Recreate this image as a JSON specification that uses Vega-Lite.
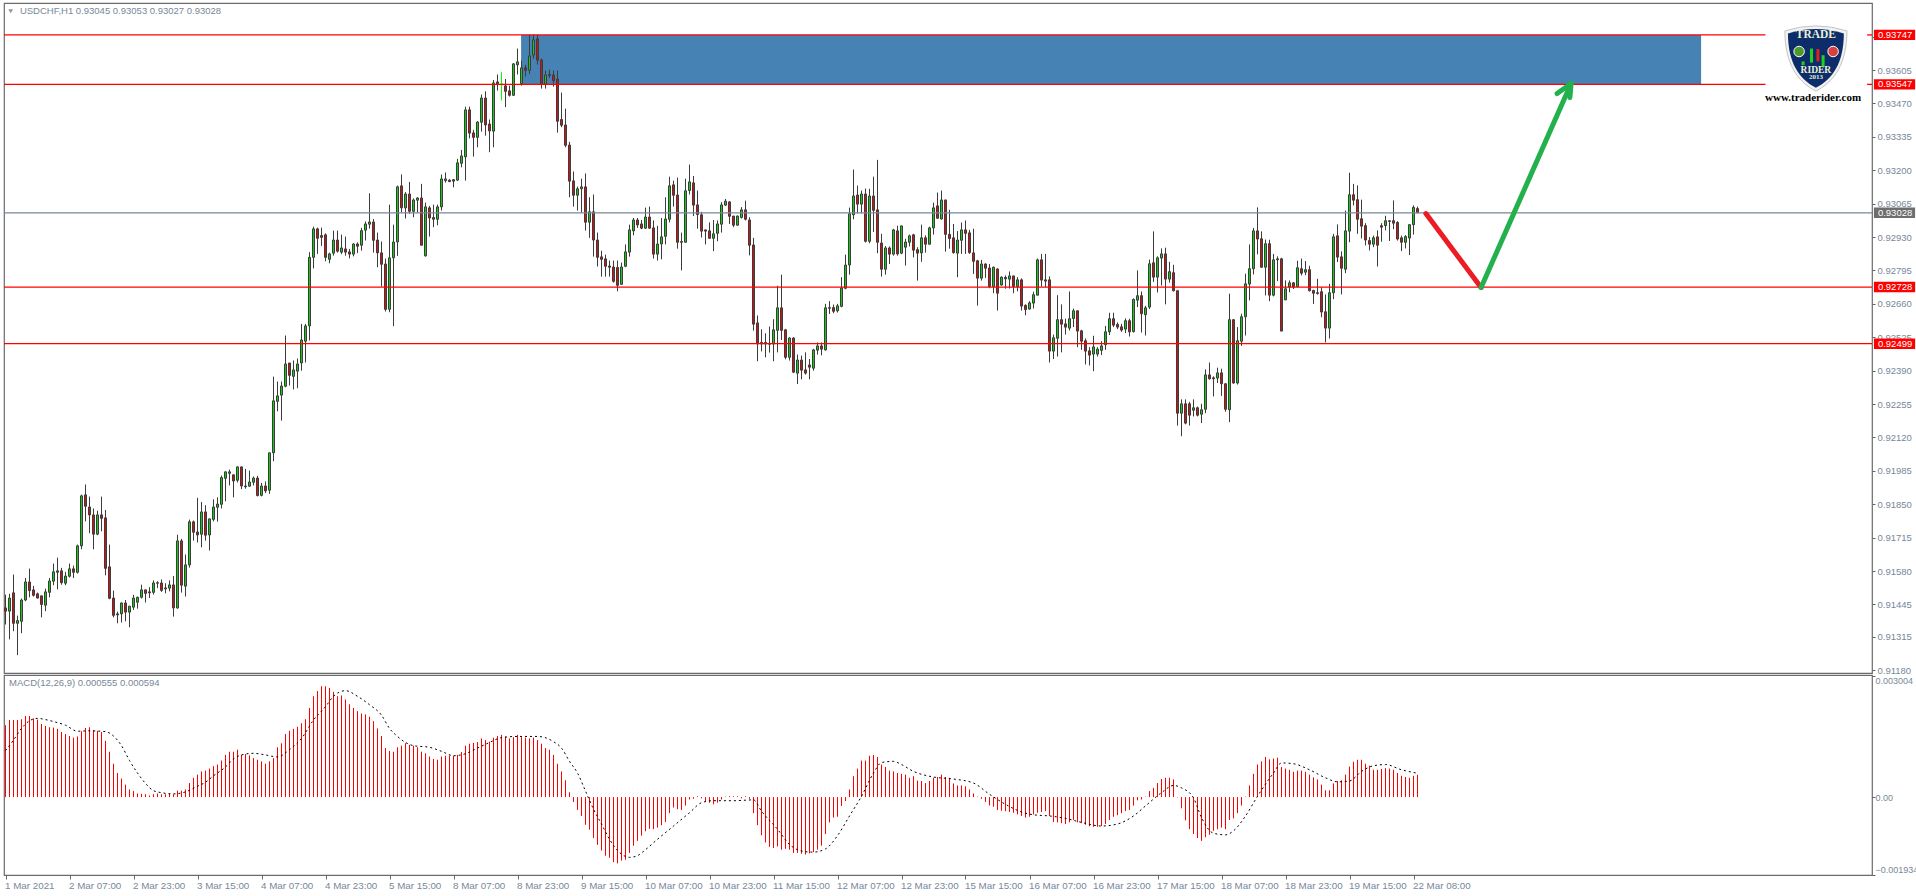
{"$schema":"https://vega.github.io/schema/vega-lite/v6.json","background":"white","padding":{"left":2,"top":2,"right":0,"bottom":0},"spacing":2,"bounds":"flush",
"datasets":{"candles":[
{"i":0,"o":0.91431,"h":0.91485,"l":0.91364,"c":0.91418,"m":0.00179},{"i":1,"o":0.91418,"h":0.91488,"l":0.91304,"c":0.91471,"m":0.00192},{"i":2,"o":0.91492,"h":0.91566,"l":0.91337,"c":0.91369,"m":0.00192},{"i":3,"o":0.91369,"h":0.91400,"l":0.91240,"c":0.91380,"m":0.00192},{"i":4,"o":0.91377,"h":0.91469,"l":0.91329,"c":0.91463,"m":0.00194},{"i":5,"o":0.91463,"h":0.91552,"l":0.91458,"c":0.91536,"m":0.00202},{"i":6,"o":0.91536,"h":0.91590,"l":0.91474,"c":0.91501,"m":0.00202},{"i":7,"o":0.91504,"h":0.91520,"l":0.91477,"c":0.91482,"m":0.00196},{"i":8,"o":0.91488,"h":0.91493,"l":0.91469,"c":0.91471,"m":0.00193},{"i":9,"o":0.91480,"h":0.91480,"l":0.91393,"c":0.91445,"m":0.00182},
{"i":10,"o":0.91442,"h":0.91509,"l":0.91418,"c":0.91496,"m":0.00177},{"i":11,"o":0.91494,"h":0.91552,"l":0.91474,"c":0.91540,"m":0.00174},{"i":12,"o":0.91539,"h":0.91610,"l":0.91523,"c":0.91577,"m":0.00173},{"i":13,"o":0.91575,"h":0.91634,"l":0.91506,"c":0.91581,"m":0.00170},{"i":14,"o":0.91581,"h":0.91593,"l":0.91525,"c":0.91533,"m":0.00162},{"i":15,"o":0.91531,"h":0.91577,"l":0.91523,"c":0.91560,"m":0.00157},{"i":16,"o":0.91559,"h":0.91610,"l":0.91554,"c":0.91589,"m":0.00152},{"i":17,"o":0.91589,"h":0.91602,"l":0.91552,"c":0.91575,"m":0.00148},{"i":18,"o":0.91575,"h":0.91687,"l":0.91570,"c":0.91682,"m":0.00151},{"i":19,"o":0.91682,"h":0.91889,"l":0.91668,"c":0.91884,"m":0.00164},
{"i":20,"o":0.91888,"h":0.91930,"l":0.91781,"c":0.91842,"m":0.00172},{"i":21,"o":0.91839,"h":0.91881,"l":0.91733,"c":0.91807,"m":0.00174},{"i":22,"o":0.91807,"h":0.91833,"l":0.91668,"c":0.91729,"m":0.00167},{"i":23,"o":0.91729,"h":0.91824,"l":0.91725,"c":0.91807,"m":0.00165},{"i":24,"o":0.91807,"h":0.91881,"l":0.91741,"c":0.91793,"m":0.00162},{"i":25,"o":0.91795,"h":0.91827,"l":0.91563,"c":0.91591,"m":0.00140},{"i":26,"o":0.91597,"h":0.91687,"l":0.91466,"c":0.91470,"m":0.00113},{"i":27,"o":0.91471,"h":0.91501,"l":0.91393,"c":0.91401,"m":0.00083},{"i":28,"o":0.91407,"h":0.91416,"l":0.91369,"c":0.91403,"m":0.00060},{"i":29,"o":0.91407,"h":0.91453,"l":0.91372,"c":0.91451,"m":0.00046},
{"i":30,"o":0.91451,"h":0.91463,"l":0.91377,"c":0.91414,"m":0.00031},{"i":31,"o":0.91414,"h":0.91439,"l":0.91353,"c":0.91438,"m":0.00019},{"i":32,"o":0.91434,"h":0.91484,"l":0.91423,"c":0.91471,"m":0.00015},{"i":33,"o":0.91454,"h":0.91477,"l":0.91428,"c":0.91474,"m":0.00009},{"i":34,"o":0.91474,"h":0.91525,"l":0.91469,"c":0.91504,"m":0.00008},{"i":35,"o":0.91504,"h":0.91505,"l":0.91453,"c":0.91490,"m":0.00007},{"i":36,"o":0.91496,"h":0.91515,"l":0.91471,"c":0.91492,"m":0.00004},{"i":37,"o":0.91494,"h":0.91542,"l":0.91485,"c":0.91532,"m":0.00007},{"i":38,"o":0.91531,"h":0.91539,"l":0.91511,"c":0.91533,"m":0.00009},{"i":39,"o":0.91532,"h":0.91546,"l":0.91496,"c":0.91502,"m":0.00007},
{"i":40,"o":0.91512,"h":0.91531,"l":0.91490,"c":0.91508,"m":0.00007},{"i":41,"o":0.91511,"h":0.91542,"l":0.91498,"c":0.91524,"m":0.00008},{"i":42,"o":0.91524,"h":0.91560,"l":0.91396,"c":0.91431,"m":0.00007},{"i":43,"o":0.91431,"h":0.91727,"l":0.91428,"c":0.91702,"m":0.00016},{"i":44,"o":0.91702,"h":0.91710,"l":0.91493,"c":0.91523,"m":0.00016},{"i":45,"o":0.91519,"h":0.91647,"l":0.91477,"c":0.91605,"m":0.00019},{"i":46,"o":0.91605,"h":0.91788,"l":0.91594,"c":0.91779,"m":0.00035},{"i":47,"o":0.91779,"h":0.91784,"l":0.91703,"c":0.91737,"m":0.00048},{"i":48,"o":0.91738,"h":0.91876,"l":0.91696,"c":0.91726,"m":0.00056},{"i":49,"o":0.91729,"h":0.91859,"l":0.91676,"c":0.91819,"m":0.00064},
{"i":50,"o":0.91819,"h":0.91846,"l":0.91703,"c":0.91725,"m":0.00066},{"i":51,"o":0.91726,"h":0.91791,"l":0.91663,"c":0.91791,"m":0.00071},{"i":52,"o":0.91789,"h":0.91870,"l":0.91781,"c":0.91839,"m":0.00077},{"i":53,"o":0.91838,"h":0.91878,"l":0.91780,"c":0.91851,"m":0.00081},{"i":54,"o":0.91850,"h":0.91966,"l":0.91833,"c":0.91958,"m":0.00091},{"i":55,"o":0.91955,"h":0.91982,"l":0.91862,"c":0.91981,"m":0.00105},{"i":56,"o":0.91975,"h":0.91990,"l":0.91926,"c":0.91981,"m":0.00113},{"i":57,"o":0.91969,"h":0.91970,"l":0.91878,"c":0.91944,"m":0.00113},{"i":58,"o":0.91947,"h":0.92002,"l":0.91938,"c":0.92001,"m":0.00118},{"i":59,"o":0.92001,"h":0.92002,"l":0.91911,"c":0.91924,"m":0.00105},
{"i":60,"o":0.91924,"h":0.91993,"l":0.91913,"c":0.91921,"m":0.00107},{"i":61,"o":0.91923,"h":0.91986,"l":0.91921,"c":0.91940,"m":0.00104},{"i":62,"o":0.91939,"h":0.91962,"l":0.91926,"c":0.91956,"m":0.00097},{"i":63,"o":0.91956,"h":0.91965,"l":0.91882,"c":0.91885,"m":0.00093},{"i":64,"o":0.91886,"h":0.91936,"l":0.91882,"c":0.91924,"m":0.00089},{"i":65,"o":0.91924,"h":0.91942,"l":0.91895,"c":0.91904,"m":0.00083},{"i":66,"o":0.91907,"h":0.92058,"l":0.91892,"c":0.92058,"m":0.00089},{"i":67,"o":0.92058,"h":0.92366,"l":0.92024,"c":0.92268,"m":0.00097},{"i":68,"o":0.92266,"h":0.92346,"l":0.92226,"c":0.92288,"m":0.00124},{"i":69,"o":0.92291,"h":0.92346,"l":0.92188,"c":0.92328,"m":0.00134},
{"i":70,"o":0.92327,"h":0.92532,"l":0.92323,"c":0.92417,"m":0.00157},{"i":71,"o":0.92421,"h":0.92421,"l":0.92330,"c":0.92371,"m":0.00165},{"i":72,"o":0.92367,"h":0.92431,"l":0.92314,"c":0.92393,"m":0.00170},{"i":73,"o":0.92388,"h":0.92439,"l":0.92319,"c":0.92417,"m":0.00175},{"i":74,"o":0.92421,"h":0.92579,"l":0.92390,"c":0.92514,"m":0.00184},{"i":75,"o":0.92509,"h":0.92579,"l":0.92423,"c":0.92571,"m":0.00194},{"i":76,"o":0.92571,"h":0.92869,"l":0.92512,"c":0.92848,"m":0.00222},{"i":77,"o":0.92848,"h":0.92972,"l":0.92803,"c":0.92963,"m":0.00251},{"i":78,"o":0.92963,"h":0.92968,"l":0.92862,"c":0.92925,"m":0.00264},{"i":79,"o":0.92936,"h":0.92968,"l":0.92894,"c":0.92929,"m":0.00276},
{"i":80,"o":0.92939,"h":0.92945,"l":0.92832,"c":0.92848,"m":0.00276},{"i":81,"o":0.92840,"h":0.92867,"l":0.92824,"c":0.92862,"m":0.00272},{"i":82,"o":0.92865,"h":0.92956,"l":0.92855,"c":0.92918,"m":0.00262},{"i":83,"o":0.92918,"h":0.92956,"l":0.92867,"c":0.92873,"m":0.00251},{"i":84,"o":0.92869,"h":0.92940,"l":0.92861,"c":0.92886,"m":0.00253},{"i":85,"o":0.92882,"h":0.92932,"l":0.92855,"c":0.92869,"m":0.00243},{"i":86,"o":0.92870,"h":0.92882,"l":0.92844,"c":0.92861,"m":0.00231},{"i":87,"o":0.92861,"h":0.92905,"l":0.92852,"c":0.92902,"m":0.00222},{"i":88,"o":0.92902,"h":0.92909,"l":0.92865,"c":0.92893,"m":0.00214},{"i":89,"o":0.92897,"h":0.92967,"l":0.92875,"c":0.92956,"m":0.00208},
{"i":90,"o":0.92958,"h":0.92993,"l":0.92916,"c":0.92983,"m":0.00206},{"i":91,"o":0.92982,"h":0.93107,"l":0.92964,"c":0.92991,"m":0.00200},{"i":92,"o":0.92991,"h":0.93003,"l":0.92867,"c":0.92917,"m":0.00189},{"i":93,"o":0.92918,"h":0.92948,"l":0.92808,"c":0.92866,"m":0.00171},{"i":94,"o":0.92866,"h":0.92912,"l":0.92730,"c":0.92820,"m":0.00152},{"i":95,"o":0.92821,"h":0.92843,"l":0.92629,"c":0.92638,"m":0.00122},{"i":96,"o":0.92638,"h":0.93061,"l":0.92626,"c":0.92846,"m":0.00115},{"i":97,"o":0.92846,"h":0.92980,"l":0.92570,"c":0.92910,"m":0.00113},{"i":98,"o":0.92910,"h":0.93138,"l":0.92854,"c":0.93133,"m":0.00124},{"i":99,"o":0.93137,"h":0.93183,"l":0.93029,"c":0.93048,"m":0.00128},
{"i":100,"o":0.93048,"h":0.93112,"l":0.93005,"c":0.93104,"m":0.00134},{"i":101,"o":0.93104,"h":0.93153,"l":0.93024,"c":0.93034,"m":0.00130},{"i":102,"o":0.93034,"h":0.93086,"l":0.93010,"c":0.93080,"m":0.00128},{"i":103,"o":0.93079,"h":0.93091,"l":0.93029,"c":0.93088,"m":0.00124},{"i":104,"o":0.93088,"h":0.93145,"l":0.92897,"c":0.92897,"m":0.00113},{"i":105,"o":0.92854,"h":0.93069,"l":0.92851,"c":0.93052,"m":0.00109},{"i":106,"o":0.93048,"h":0.93056,"l":0.92932,"c":0.93007,"m":0.00101},{"i":107,"o":0.93009,"h":0.93061,"l":0.92970,"c":0.93002,"m":0.00095},{"i":108,"o":0.93002,"h":0.93061,"l":0.92978,"c":0.93052,"m":0.00093},{"i":109,"o":0.93052,"h":0.93183,"l":0.93037,"c":0.93165,"m":0.00101},
{"i":110,"o":0.93158,"h":0.93191,"l":0.93150,"c":0.93165,"m":0.00103},{"i":111,"o":0.93160,"h":0.93164,"l":0.93152,"c":0.93154,"m":0.00103},{"i":112,"o":0.93162,"h":0.93164,"l":0.93131,"c":0.93156,"m":0.00103},{"i":113,"o":0.93160,"h":0.93246,"l":0.93157,"c":0.93230,"m":0.00105},{"i":114,"o":0.93228,"h":0.93282,"l":0.93212,"c":0.93258,"m":0.00112},{"i":115,"o":0.93254,"h":0.93457,"l":0.93158,"c":0.93444,"m":0.00128},{"i":116,"o":0.93444,"h":0.93457,"l":0.93329,"c":0.93350,"m":0.00133},{"i":117,"o":0.93351,"h":0.93363,"l":0.93255,"c":0.93333,"m":0.00135},{"i":118,"o":0.93333,"h":0.93398,"l":0.93293,"c":0.93395,"m":0.00137},{"i":119,"o":0.93394,"h":0.93506,"l":0.93356,"c":0.93492,"m":0.00146},
{"i":120,"o":0.93492,"h":0.93519,"l":0.93340,"c":0.93383,"m":0.00142},{"i":121,"o":0.93387,"h":0.93405,"l":0.93273,"c":0.93359,"m":0.00138},{"i":122,"o":0.93358,"h":0.93565,"l":0.93293,"c":0.93553,"m":0.00148},{"i":123,"o":0.93557,"h":0.93587,"l":0.93522,"c":0.93549,"m":0.00152},{"i":124,"o":0.93545,"h":0.93596,"l":0.93482,"c":0.93549,"m":0.00155},{"i":125,"o":0.93541,"h":0.93569,"l":0.93455,"c":0.93519,"m":0.00151},{"i":126,"o":0.93521,"h":0.93542,"l":0.93498,"c":0.93503,"m":0.00146},{"i":127,"o":0.93503,"h":0.93633,"l":0.93501,"c":0.93630,"m":0.00149},{"i":128,"o":0.93626,"h":0.93692,"l":0.93587,"c":0.93638,"m":0.00155},{"i":129,"o":0.93549,"h":0.93643,"l":0.93542,"c":0.93614,"m":0.00149},
{"i":130,"o":0.93614,"h":0.93626,"l":0.93579,"c":0.93604,"m":0.00148},{"i":131,"o":0.93604,"h":0.93748,"l":0.93589,"c":0.93662,"m":0.00146},{"i":132,"o":0.93666,"h":0.93748,"l":0.93651,"c":0.93727,"m":0.00148},{"i":133,"o":0.93731,"h":0.93748,"l":0.93627,"c":0.93645,"m":0.00142},{"i":134,"o":0.93646,"h":0.93651,"l":0.93530,"c":0.93549,"m":0.00133},{"i":135,"o":0.93549,"h":0.93603,"l":0.93530,"c":0.93585,"m":0.00122},{"i":136,"o":0.93587,"h":0.93606,"l":0.93573,"c":0.93583,"m":0.00118},{"i":137,"o":0.93585,"h":0.93603,"l":0.93538,"c":0.93562,"m":0.00105},{"i":138,"o":0.93569,"h":0.93603,"l":0.93352,"c":0.93398,"m":0.00083},{"i":139,"o":0.93405,"h":0.93514,"l":0.93374,"c":0.93382,"m":0.00064},
{"i":140,"o":0.93383,"h":0.93449,"l":0.93293,"c":0.93301,"m":0.00042},{"i":141,"o":0.93302,"h":0.93315,"l":0.93091,"c":0.93156,"m":0.00012},{"i":142,"o":0.93157,"h":0.93195,"l":0.93053,"c":0.93099,"m":-0.00012},{"i":143,"o":0.93099,"h":0.93134,"l":0.93037,"c":0.93125,"m":-0.00032},{"i":144,"o":0.93125,"h":0.93166,"l":0.93029,"c":0.93133,"m":-0.00047},{"i":145,"o":0.93133,"h":0.93187,"l":0.92956,"c":0.92990,"m":-0.00069},{"i":146,"o":0.92990,"h":0.93091,"l":0.92927,"c":0.93032,"m":-0.00081},{"i":147,"o":0.93032,"h":0.93102,"l":0.92851,"c":0.92918,"m":-0.00102},{"i":148,"o":0.92918,"h":0.92948,"l":0.92811,"c":0.92848,"m":-0.00119},{"i":149,"o":0.92850,"h":0.92875,"l":0.92770,"c":0.92840,"m":-0.00133},
{"i":150,"o":0.92842,"h":0.92859,"l":0.92770,"c":0.92812,"m":-0.00146},{"i":151,"o":0.92813,"h":0.92835,"l":0.92770,"c":0.92808,"m":-0.00151},{"i":152,"o":0.92809,"h":0.92835,"l":0.92746,"c":0.92751,"m":-0.00162},{"i":153,"o":0.92807,"h":0.92835,"l":0.92711,"c":0.92735,"m":-0.00165},{"i":154,"o":0.92739,"h":0.92827,"l":0.92738,"c":0.92809,"m":-0.00158},{"i":155,"o":0.92812,"h":0.92900,"l":0.92808,"c":0.92870,"m":-0.00156},{"i":156,"o":0.92869,"h":0.92980,"l":0.92851,"c":0.92959,"m":-0.00139},{"i":157,"o":0.92955,"h":0.93007,"l":0.92937,"c":0.92999,"m":-0.00121},{"i":158,"o":0.92999,"h":0.93007,"l":0.92967,"c":0.92979,"m":-0.00109},{"i":159,"o":0.92983,"h":0.92999,"l":0.92962,"c":0.92966,"m":-0.00096},
{"i":160,"o":0.92966,"h":0.93049,"l":0.92963,"c":0.93011,"m":-0.00085},{"i":161,"o":0.93011,"h":0.93053,"l":0.92963,"c":0.92966,"m":-0.00079},{"i":162,"o":0.92967,"h":0.92997,"l":0.92843,"c":0.92861,"m":-0.00080},{"i":163,"o":0.92861,"h":0.92975,"l":0.92835,"c":0.92902,"m":-0.00076},{"i":164,"o":0.92902,"h":0.93007,"l":0.92840,"c":0.92931,"m":-0.00070},{"i":165,"o":0.92933,"h":0.93091,"l":0.92900,"c":0.93003,"m":-0.00062},{"i":166,"o":0.93002,"h":0.93174,"l":0.92989,"c":0.93137,"m":-0.00040},{"i":167,"o":0.93141,"h":0.93158,"l":0.93053,"c":0.93099,"m":-0.00026},{"i":168,"o":0.93100,"h":0.93170,"l":0.92883,"c":0.92909,"m":-0.00030},{"i":169,"o":0.92912,"h":0.92948,"l":0.92795,"c":0.92909,"m":-0.00032},
{"i":170,"o":0.92909,"h":0.93166,"l":0.92908,"c":0.93117,"m":-0.00021},{"i":171,"o":0.93118,"h":0.93223,"l":0.93102,"c":0.93153,"m":-0.00006},{"i":172,"o":0.93149,"h":0.93177,"l":0.93015,"c":0.93059,"m":-0.00004},{"i":173,"o":0.93060,"h":0.93118,"l":0.92964,"c":0.93021,"m":0.00002},{"i":174,"o":0.93020,"h":0.93032,"l":0.92928,"c":0.92954,"m":-0.00003},{"i":175,"o":0.92959,"h":0.92959,"l":0.92900,"c":0.92954,"m":-0.00010},{"i":176,"o":0.92955,"h":0.92989,"l":0.92924,"c":0.92925,"m":-0.00014},{"i":177,"o":0.92925,"h":0.92999,"l":0.92873,"c":0.92943,"m":-0.00018},{"i":178,"o":0.92945,"h":0.92997,"l":0.92913,"c":0.92983,"m":-0.00014},{"i":179,"o":0.92982,"h":0.93071,"l":0.92948,"c":0.93060,"m":-0.00006},
{"i":180,"o":0.93059,"h":0.93084,"l":0.93056,"c":0.93075,"m":0.00001},{"i":181,"o":0.93072,"h":0.93075,"l":0.92983,"c":0.93014,"m":0.00002},{"i":182,"o":0.93015,"h":0.93015,"l":0.92970,"c":0.92978,"m":0.00002},{"i":183,"o":0.92978,"h":0.93017,"l":0.92976,"c":0.93015,"m":0.00002},{"i":184,"o":0.93009,"h":0.93051,"l":0.93005,"c":0.93040,"m":-0.00003},{"i":185,"o":0.93040,"h":0.93077,"l":0.92997,"c":0.93002,"m":0.00002},{"i":186,"o":0.92999,"h":0.93010,"l":0.92856,"c":0.92897,"m":-0.00004},{"i":187,"o":0.92898,"h":0.92927,"l":0.92552,"c":0.92578,"m":-0.00040},{"i":188,"o":0.92583,"h":0.92613,"l":0.92428,"c":0.92498,"m":-0.00070},{"i":189,"o":0.92504,"h":0.92557,"l":0.92468,"c":0.92498,"m":-0.00095},
{"i":190,"o":0.92504,"h":0.92541,"l":0.92444,"c":0.92498,"m":-0.00113},{"i":191,"o":0.92497,"h":0.92568,"l":0.92463,"c":0.92499,"m":-0.00124},{"i":192,"o":0.92498,"h":0.92598,"l":0.92428,"c":0.92555,"m":-0.00127},{"i":193,"o":0.92553,"h":0.92733,"l":0.92464,"c":0.92644,"m":-0.00123},{"i":194,"o":0.92644,"h":0.92778,"l":0.92514,"c":0.92553,"m":-0.00131},{"i":195,"o":0.92555,"h":0.92559,"l":0.92436,"c":0.92444,"m":-0.00129},{"i":196,"o":0.92444,"h":0.92525,"l":0.92431,"c":0.92522,"m":-0.00131},{"i":197,"o":0.92522,"h":0.92525,"l":0.92380,"c":0.92384,"m":-0.00139},{"i":198,"o":0.92380,"h":0.92455,"l":0.92336,"c":0.92433,"m":-0.00139},{"i":199,"o":0.92433,"h":0.92451,"l":0.92355,"c":0.92392,"m":-0.00141},
{"i":200,"o":0.92393,"h":0.92464,"l":0.92374,"c":0.92380,"m":-0.00143},{"i":201,"o":0.92413,"h":0.92437,"l":0.92355,"c":0.92404,"m":-0.00140},{"i":202,"o":0.92400,"h":0.92478,"l":0.92390,"c":0.92474,"m":-0.00137},{"i":203,"o":0.92473,"h":0.92504,"l":0.92455,"c":0.92490,"m":-0.00131},{"i":204,"o":0.92490,"h":0.92504,"l":0.92452,"c":0.92477,"m":-0.00121},{"i":205,"o":0.92474,"h":0.92660,"l":0.92471,"c":0.92644,"m":-0.00092},{"i":206,"o":0.92642,"h":0.92671,"l":0.92619,"c":0.92645,"m":-0.00063},{"i":207,"o":0.92645,"h":0.92657,"l":0.92622,"c":0.92630,"m":-0.00051},{"i":208,"o":0.92632,"h":0.92660,"l":0.92625,"c":0.92652,"m":-0.00049},{"i":209,"o":0.92650,"h":0.92768,"l":0.92646,"c":0.92724,"m":-0.00022},
{"i":210,"o":0.92723,"h":0.92859,"l":0.92719,"c":0.92817,"m":-0.00010},{"i":211,"o":0.92817,"h":0.93049,"l":0.92778,"c":0.93024,"m":0.00019},{"i":212,"o":0.93020,"h":0.93203,"l":0.93002,"c":0.93096,"m":0.00052},{"i":213,"o":0.93100,"h":0.93138,"l":0.93026,"c":0.93063,"m":0.00071},{"i":214,"o":0.93063,"h":0.93118,"l":0.93026,"c":0.93104,"m":0.00091},{"i":215,"o":0.93104,"h":0.93126,"l":0.92908,"c":0.92913,"m":0.00091},{"i":216,"o":0.92913,"h":0.93125,"l":0.92905,"c":0.93096,"m":0.00103},{"i":217,"o":0.93096,"h":0.93174,"l":0.92951,"c":0.93038,"m":0.00105},{"i":218,"o":0.93040,"h":0.93242,"l":0.92865,"c":0.92909,"m":0.00100},{"i":219,"o":0.92906,"h":0.92943,"l":0.92770,"c":0.92800,"m":0.00081},
{"i":220,"o":0.92800,"h":0.92894,"l":0.92778,"c":0.92886,"m":0.00075},{"i":221,"o":0.92886,"h":0.92892,"l":0.92821,"c":0.92861,"m":0.00066},{"i":222,"o":0.92861,"h":0.92963,"l":0.92855,"c":0.92959,"m":0.00064},{"i":223,"o":0.92955,"h":0.92976,"l":0.92855,"c":0.92862,"m":0.00060},{"i":224,"o":0.92865,"h":0.92976,"l":0.92861,"c":0.92975,"m":0.00058},{"i":225,"o":0.92889,"h":0.92923,"l":0.92815,"c":0.92910,"m":0.00056},{"i":226,"o":0.92909,"h":0.92940,"l":0.92892,"c":0.92935,"m":0.00048},{"i":227,"o":0.92939,"h":0.92943,"l":0.92848,"c":0.92877,"m":0.00052},{"i":228,"o":0.92879,"h":0.92889,"l":0.92754,"c":0.92865,"m":0.00041},{"i":229,"o":0.92866,"h":0.92980,"l":0.92830,"c":0.92927,"m":0.00040},
{"i":230,"o":0.92927,"h":0.92937,"l":0.92867,"c":0.92901,"m":0.00035},{"i":231,"o":0.92901,"h":0.92972,"l":0.92900,"c":0.92967,"m":0.00040},{"i":232,"o":0.92967,"h":0.93069,"l":0.92940,"c":0.93048,"m":0.00048},{"i":233,"o":0.93056,"h":0.93110,"l":0.93005,"c":0.93006,"m":0.00050},{"i":234,"o":0.93003,"h":0.93118,"l":0.93001,"c":0.93080,"m":0.00056},{"i":235,"o":0.93080,"h":0.93080,"l":0.92871,"c":0.92941,"m":0.00050},{"i":236,"o":0.92941,"h":0.93040,"l":0.92883,"c":0.92924,"m":0.00048},{"i":237,"o":0.92927,"h":0.92983,"l":0.92863,"c":0.92867,"m":0.00034},{"i":238,"o":0.92865,"h":0.92954,"l":0.92768,"c":0.92918,"m":0.00029},{"i":239,"o":0.92917,"h":0.92989,"l":0.92862,"c":0.92959,"m":0.00029},
{"i":240,"o":0.92959,"h":0.92997,"l":0.92862,"c":0.92945,"m":0.00027},{"i":241,"o":0.92947,"h":0.92959,"l":0.92862,"c":0.92867,"m":0.00019},{"i":242,"o":0.92866,"h":0.92964,"l":0.92781,"c":0.92832,"m":0.00009},{"i":243,"o":0.92834,"h":0.92838,"l":0.92653,"c":0.92764,"m":0.00001},{"i":244,"o":0.92764,"h":0.92838,"l":0.92754,"c":0.92821,"m":-0.00004},{"i":245,"o":0.92821,"h":0.92824,"l":0.92765,"c":0.92804,"m":-0.00012},{"i":246,"o":0.92805,"h":0.92821,"l":0.92723,"c":0.92730,"m":-0.00021},{"i":247,"o":0.92730,"h":0.92811,"l":0.92703,"c":0.92808,"m":-0.00024},{"i":248,"o":0.92801,"h":0.92804,"l":0.92633,"c":0.92703,"m":-0.00032},{"i":249,"o":0.92736,"h":0.92771,"l":0.92734,"c":0.92768,"m":-0.00034},
{"i":250,"o":0.92767,"h":0.92775,"l":0.92721,"c":0.92761,"m":-0.00035},{"i":251,"o":0.92760,"h":0.92791,"l":0.92722,"c":0.92773,"m":-0.00037},{"i":252,"o":0.92773,"h":0.92773,"l":0.92703,"c":0.92730,"m":-0.00039},{"i":253,"o":0.92730,"h":0.92768,"l":0.92711,"c":0.92757,"m":-0.00043},{"i":254,"o":0.92757,"h":0.92763,"l":0.92633,"c":0.92651,"m":-0.00047},{"i":255,"o":0.92654,"h":0.92658,"l":0.92614,"c":0.92637,"m":-0.00051},{"i":256,"o":0.92639,"h":0.92671,"l":0.92637,"c":0.92664,"m":-0.00049},{"i":257,"o":0.92663,"h":0.92709,"l":0.92641,"c":0.92697,"m":-0.00043},{"i":258,"o":0.92695,"h":0.92843,"l":0.92695,"c":0.92838,"m":-0.00039},{"i":259,"o":0.92838,"h":0.92862,"l":0.92730,"c":0.92756,"m":-0.00037},
{"i":260,"o":0.92757,"h":0.92862,"l":0.92728,"c":0.92752,"m":-0.00035},{"i":261,"o":0.92757,"h":0.92771,"l":0.92423,"c":0.92469,"m":-0.00047},{"i":262,"o":0.92469,"h":0.92536,"l":0.92437,"c":0.92523,"m":-0.00062},{"i":263,"o":0.92521,"h":0.92695,"l":0.92447,"c":0.92596,"m":-0.00063},{"i":264,"o":0.92596,"h":0.92658,"l":0.92464,"c":0.92578,"m":-0.00065},{"i":265,"o":0.92579,"h":0.92600,"l":0.92536,"c":0.92566,"m":-0.00067},{"i":266,"o":0.92562,"h":0.92710,"l":0.92552,"c":0.92600,"m":-0.00063},{"i":267,"o":0.92601,"h":0.92641,"l":0.92566,"c":0.92632,"m":-0.00057},{"i":268,"o":0.92632,"h":0.92633,"l":0.92485,"c":0.92550,"m":-0.00063},{"i":269,"o":0.92551,"h":0.92555,"l":0.92474,"c":0.92509,"m":-0.00065},
{"i":270,"o":0.92511,"h":0.92520,"l":0.92415,"c":0.92469,"m":-0.00069},{"i":271,"o":0.92470,"h":0.92485,"l":0.92411,"c":0.92453,"m":-0.00073},{"i":272,"o":0.92457,"h":0.92531,"l":0.92388,"c":0.92486,"m":-0.00074},{"i":273,"o":0.92457,"h":0.92485,"l":0.92447,"c":0.92477,"m":-0.00074},{"i":274,"o":0.92472,"h":0.92509,"l":0.92453,"c":0.92490,"m":-0.00072},{"i":275,"o":0.92495,"h":0.92571,"l":0.92474,"c":0.92547,"m":-0.00067},{"i":276,"o":0.92547,"h":0.92624,"l":0.92534,"c":0.92600,"m":-0.00057},{"i":277,"o":0.92600,"h":0.92624,"l":0.92566,"c":0.92574,"m":-0.00049},{"i":278,"o":0.92577,"h":0.92585,"l":0.92558,"c":0.92566,"m":-0.00045},{"i":279,"o":0.92567,"h":0.92579,"l":0.92547,"c":0.92554,"m":-0.00040},
{"i":280,"o":0.92558,"h":0.92601,"l":0.92542,"c":0.92592,"m":-0.00035},{"i":281,"o":0.92592,"h":0.92600,"l":0.92528,"c":0.92547,"m":-0.00032},{"i":282,"o":0.92548,"h":0.92682,"l":0.92544,"c":0.92678,"m":-0.00021},{"i":283,"o":0.92675,"h":0.92795,"l":0.92647,"c":0.92693,"m":-0.00008},{"i":284,"o":0.92693,"h":0.92710,"l":0.92544,"c":0.92620,"m":-0.00006},{"i":285,"o":0.92616,"h":0.92652,"l":0.92532,"c":0.92644,"m":0.00001},{"i":286,"o":0.92647,"h":0.92839,"l":0.92639,"c":0.92822,"m":0.00015},{"i":287,"o":0.92826,"h":0.92953,"l":0.92749,"c":0.92768,"m":0.00023},{"i":288,"o":0.92768,"h":0.92852,"l":0.92706,"c":0.92846,"m":0.00035},{"i":289,"o":0.92845,"h":0.92884,"l":0.92734,"c":0.92862,"m":0.00045},
{"i":290,"o":0.92862,"h":0.92887,"l":0.92658,"c":0.92760,"m":0.00048},{"i":291,"o":0.92760,"h":0.92830,"l":0.92746,"c":0.92790,"m":0.00048},{"i":292,"o":0.92786,"h":0.92818,"l":0.92710,"c":0.92713,"m":0.00044},{"i":293,"o":0.92713,"h":0.92714,"l":0.92168,"c":0.92218,"m":-0.00001},{"i":294,"o":0.92218,"h":0.92274,"l":0.92125,"c":0.92256,"m":-0.00028},{"i":295,"o":0.92256,"h":0.92274,"l":0.92173,"c":0.92178,"m":-0.00058},{"i":296,"o":0.92256,"h":0.92264,"l":0.92168,"c":0.92210,"m":-0.00080},{"i":297,"o":0.92230,"h":0.92274,"l":0.92205,"c":0.92240,"m":-0.00092},{"i":298,"o":0.92240,"h":0.92245,"l":0.92205,"c":0.92210,"m":-0.00102},{"i":299,"o":0.92214,"h":0.92256,"l":0.92178,"c":0.92232,"m":-0.00109},
{"i":300,"o":0.92234,"h":0.92395,"l":0.92218,"c":0.92373,"m":-0.00100},{"i":301,"o":0.92373,"h":0.92423,"l":0.92354,"c":0.92357,"m":-0.00094},{"i":302,"o":0.92361,"h":0.92367,"l":0.92286,"c":0.92357,"m":-0.00084},{"i":303,"o":0.92360,"h":0.92402,"l":0.92340,"c":0.92381,"m":-0.00080},{"i":304,"o":0.92381,"h":0.92398,"l":0.92288,"c":0.92337,"m":-0.00076},{"i":305,"o":0.92337,"h":0.92340,"l":0.92224,"c":0.92234,"m":-0.00080},{"i":306,"o":0.92232,"h":0.92701,"l":0.92182,"c":0.92596,"m":-0.00057},{"i":307,"o":0.92596,"h":0.92598,"l":0.92337,"c":0.92340,"m":-0.00053},{"i":308,"o":0.92340,"h":0.92566,"l":0.92334,"c":0.92511,"m":-0.00040},{"i":309,"o":0.92509,"h":0.92620,"l":0.92490,"c":0.92608,"m":-0.00021},
{"i":310,"o":0.92608,"h":0.92782,"l":0.92532,"c":0.92741,"m":0.00001},{"i":311,"o":0.92740,"h":0.92900,"l":0.92674,"c":0.92802,"m":0.00029},{"i":312,"o":0.92802,"h":0.92967,"l":0.92779,"c":0.92955,"m":0.00058},{"i":313,"o":0.92955,"h":0.93050,"l":0.92860,"c":0.92922,"m":0.00081},{"i":314,"o":0.92923,"h":0.92953,"l":0.92806,"c":0.92808,"m":0.00089},{"i":315,"o":0.92808,"h":0.92920,"l":0.92694,"c":0.92903,"m":0.00100},{"i":316,"o":0.92903,"h":0.92919,"l":0.92671,"c":0.92695,"m":0.00094},{"i":317,"o":0.92695,"h":0.92862,"l":0.92690,"c":0.92838,"m":0.00096},{"i":318,"o":0.92838,"h":0.92852,"l":0.92752,"c":0.92842,"m":0.00098},{"i":319,"o":0.92842,"h":0.92846,"l":0.92550,"c":0.92550,"m":0.00075},
{"i":320,"o":0.92676,"h":0.92755,"l":0.92676,"c":0.92721,"m":0.00071},{"i":321,"o":0.92728,"h":0.92755,"l":0.92707,"c":0.92745,"m":0.00068},{"i":322,"o":0.92745,"h":0.92748,"l":0.92720,"c":0.92728,"m":0.00063},{"i":323,"o":0.92730,"h":0.92834,"l":0.92728,"c":0.92806,"m":0.00066},{"i":324,"o":0.92802,"h":0.92843,"l":0.92775,"c":0.92784,"m":0.00066},{"i":325,"o":0.92788,"h":0.92833,"l":0.92776,"c":0.92798,"m":0.00063},{"i":326,"o":0.92798,"h":0.92814,"l":0.92710,"c":0.92713,"m":0.00056},{"i":327,"o":0.92714,"h":0.92717,"l":0.92660,"c":0.92703,"m":0.00049},{"i":328,"o":0.92705,"h":0.92761,"l":0.92697,"c":0.92702,"m":0.00044},{"i":329,"o":0.92709,"h":0.92728,"l":0.92606,"c":0.92627,"m":0.00031},
{"i":330,"o":0.92628,"h":0.92698,"l":0.92504,"c":0.92562,"m":0.00017},{"i":331,"o":0.92562,"h":0.92741,"l":0.92520,"c":0.92705,"m":0.00017},{"i":332,"o":0.92705,"h":0.92943,"l":0.92679,"c":0.92931,"m":0.00034},{"i":333,"o":0.92935,"h":0.92981,"l":0.92829,"c":0.92849,"m":0.00040},{"i":334,"o":0.92850,"h":0.92872,"l":0.92698,"c":0.92804,"m":0.00042},{"i":335,"o":0.92800,"h":0.93037,"l":0.92784,"c":0.92955,"m":0.00056},{"i":336,"o":0.92954,"h":0.93190,"l":0.92909,"c":0.93101,"m":0.00076},{"i":337,"o":0.93101,"h":0.93145,"l":0.93058,"c":0.93079,"m":0.00088},{"i":338,"o":0.93081,"h":0.93139,"l":0.92943,"c":0.93002,"m":0.00093},{"i":339,"o":0.93004,"h":0.93081,"l":0.92924,"c":0.92974,"m":0.00093},
{"i":340,"o":0.92976,"h":0.92986,"l":0.92896,"c":0.92918,"m":0.00083},{"i":341,"o":0.92916,"h":0.92930,"l":0.92876,"c":0.92901,"m":0.00078},{"i":342,"o":0.92901,"h":0.92936,"l":0.92889,"c":0.92927,"m":0.00068},{"i":343,"o":0.92931,"h":0.92957,"l":0.92811,"c":0.92897,"m":0.00068},{"i":344,"o":0.92976,"h":0.92986,"l":0.92911,"c":0.92970,"m":0.00070},{"i":345,"o":0.92976,"h":0.93016,"l":0.92957,"c":0.92996,"m":0.00072},{"i":346,"o":0.92996,"h":0.92996,"l":0.92914,"c":0.92993,"m":0.00071},{"i":347,"o":0.92996,"h":0.93078,"l":0.92962,"c":0.92986,"m":0.00068},{"i":348,"o":0.92989,"h":0.92994,"l":0.92916,"c":0.92922,"m":0.00060},{"i":349,"o":0.92927,"h":0.92936,"l":0.92873,"c":0.92909,"m":0.00053},
{"i":350,"o":0.92909,"h":0.92938,"l":0.92884,"c":0.92932,"m":0.00050},{"i":351,"o":0.92926,"h":0.92981,"l":0.92857,"c":0.92980,"m":0.00048},{"i":352,"o":0.92980,"h":0.93058,"l":0.92940,"c":0.93050,"m":0.00053},{"i":353,"o":0.93045,"h":0.93053,"l":0.93027,"c":0.93028,"m":0.000555}
],
"signal":[{"i":0,"s":0.00116},{"i":2,"s":0.00142},{"i":4,"s":0.00171},{"i":6,"s":0.00190},{"i":8,"s":0.00196},{"i":10,"s":0.00193},{"i":12,"s":0.00188},{"i":15,"s":0.00179},{"i":18,"s":0.00164},{"i":21,"s":0.00165},{"i":25,"s":0.00163},{"i":27,"s":0.00152},{"i":29,"s":0.00128},{"i":31,"s":0.00091},{"i":33,"s":0.00060},{"i":35,"s":0.00034},{"i":37,"s":0.00016},{"i":39,"s":0.00011},{"i":42,"s":0.00008},{"i":45,"s":0.00013},{"i":48,"s":0.00027},{"i":50,"s":0.00037},{"i":52,"s":0.00053},{"i":55,"s":0.00075},{"i":57,"s":0.00095},{"i":59,"s":0.00105},{"i":62,"s":0.00109},{"i":65,"s":0.00105},{"i":68,"s":0.00100},{"i":71,"s":0.00118},{"i":74,"s":0.00146},{"i":77,"s":0.00192},{"i":80,"s":0.00225},{"i":82,"s":0.00251},{"i":85,"s":0.00265},{"i":88,"s":0.00251},{"i":91,"s":0.00230},{"i":94,"s":0.00204},{"i":96,"s":0.00171},{"i":98,"s":0.00151},{"i":100,"s":0.00136},{"i":102,"s":0.00128},{"i":106,"s":0.00124},{"i":109,"s":0.00114},{"i":112,"s":0.00103},{"i":115,"s":0.00108},{"i":118,"s":0.00122},{"i":121,"s":0.00136},{"i":124,"s":0.00148},{"i":128,"s":0.00151},{"i":133,"s":0.00151},{"i":137,"s":0.00138},{"i":139,"s":0.00122},{"i":141,"s":0.00089},{"i":143,"s":0.00060},{"i":145,"s":0.00015},{"i":147,"s":-0.00030},{"i":149,"s":-0.00067},{"i":151,"s":-0.00105},{"i":154,"s":-0.00142},{"i":156,"s":-0.00150},{"i":158,"s":-0.00146},{"i":159,"s":-0.00139},{"i":163,"s":-0.00105},{"i":167,"s":-0.00072},{"i":171,"s":-0.00039},{"i":174,"s":-0.00014},{"i":177,"s":-0.00009},{"i":182,"s":-0.00009},{"i":187,"s":-0.00007},{"i":189,"s":-0.00035},{"i":193,"s":-0.00080},{"i":196,"s":-0.00118},{"i":200,"s":-0.00136},{"i":202,"s":-0.00137},{"i":205,"s":-0.00129},{"i":208,"s":-0.00096},{"i":211,"s":-0.00047},{"i":214,"s":0.00002},{"i":217,"s":0.00060},{"i":219,"s":0.00086},{"i":222,"s":0.00089},{"i":224,"s":0.00081},{"i":227,"s":0.00064},{"i":232,"s":0.00050},{"i":237,"s":0.00045},{"i":242,"s":0.00035},{"i":246,"s":0.00007},{"i":250,"s":-0.00018},{"i":254,"s":-0.00037},{"i":257,"s":-0.00044},{"i":261,"s":-0.00047},{"i":265,"s":-0.00053},{"i":269,"s":-0.00063},{"i":274,"s":-0.00072},{"i":278,"s":-0.00067},{"i":282,"s":-0.00047},{"i":285,"s":-0.00022},{"i":289,"s":0.00011},{"i":292,"s":0.00029},{"i":294,"s":0.00023},{"i":297,"s":-0.00002},{"i":299,"s":-0.00051},{"i":302,"s":-0.00090},{"i":305,"s":-0.00094},{"i":307,"s":-0.00084},{"i":310,"s":-0.00047},{"i":313,"s":0.00002},{"i":317,"s":0.00060},{"i":319,"s":0.00085},{"i":322,"s":0.00083},{"i":326,"s":0.00068},{"i":330,"s":0.00048},{"i":333,"s":0.00038},{"i":336,"s":0.00040},{"i":339,"s":0.00064},{"i":342,"s":0.00078},{"i":345,"s":0.00081},{"i":349,"s":0.00068},{"i":353,"s":0.000594}],
"levels":[{"p":0.93747,"a":-0.375,"b":440,"k":"r"},{"p":0.93747,"a":465.4,"b":466.625,"k":"r"},{"p":0.93547,"a":-0.375,"b":440,"k":"r"},{"p":0.93547,"a":465.4,"b":466.625,"k":"r"},{"p":0.92728,"a":-0.375,"b":466.625,"k":"r"},{"p":0.92499,"a":-0.375,"b":466.625,"k":"r"},{"p":0.93028,"a":-0.375,"b":466.625,"k":"g"}],
"tags":[{"p":0.93747,"lo":0.93726,"hi":0.93768,"k":"r"},{"p":0.93547,"lo":0.93526,"hi":0.93568,"k":"r"},{"p":0.93028,"lo":0.93007,"hi":0.93049,"k":"g"},{"p":0.92728,"lo":0.92707,"hi":0.92749,"k":"r"},{"p":0.92499,"lo":0.92478,"hi":0.92520,"k":"r"}],
"trend":[{"s":"a","n":0,"i":355.1,"p":0.93025,"k":"red"},{"s":"a","n":1,"i":368.9,"p":0.92726,"k":"red"},{"s":"b","n":0,"i":368.9,"p":0.92726,"k":"green"},{"s":"b","n":1,"i":391.4,"p":0.93551,"k":"green"},{"s":"c","n":0,"i":387.9,"p":0.93510,"k":"green"},{"s":"c","n":1,"i":391.4,"p":0.93551,"k":"green"},{"s":"c","n":2,"i":391.1,"p":0.93494,"k":"green"}],
"logoText":[{"i":452.6,"p":0.93745,"t":"TRADE","z":11.5,"k":"#e9f0d8"},{"i":452.6,"p":0.93607,"t":"RIDER","z":9.5,"k":"#e9f0d8"},{"i":452.6,"p":0.93575,"t":"2013","z":7,"k":"#e9f0d8"},{"i":451.9,"p":0.93491,"t":"www.traderider.com","z":11,"k":"#000000"}],
"logoCandles":[{"i":451.5,"a":0.93692,"b":0.93635,"u":1},{"i":449.4,"a":0.93640,"b":0.93625,"u":1},{"i":453.1,"a":0.93690,"b":0.93640,"u":0},{"i":454.4,"a":0.93665,"b":0.93620,"u":1}],
"logoDots":[{"i":448.4,"p":0.93680,"u":1},{"i":456.9,"p":0.93680,"u":0}]
},
"vconcat":[
{"width":1868,"height":670,
"layer":[
{"data":{"values":[{"a":128.9,"b":423.9,"t":0.93747,"d":0.93547}]},"mark":{"type":"rect","color":"#4682b4"},"encoding":{"x":{"field":"a","type":"quantitative","axis":null,"scale":{"domain":[-0.375,466.625],"nice":false,"zero":false}},"x2":{"field":"b"},"y":{"field":"t","type":"quantitative","scale":{"domain":[0.91168,0.93876],"nice":false,"zero":false},"axis":{"title":null,"values":[0.9118,0.91315,0.91445,0.9158,0.91715,0.9185,0.91985,0.9212,0.92255,0.9239,0.92525,0.9266,0.92795,0.9293,0.93065,0.932,0.93335,0.9347,0.93605,0.9374],"tickCount":40,"format":".5f","orient":"right","labelPadding":2,"labelOverlap":false,"labelBound":false,"labelFlush":false}},"y2":{"field":"d"}}},
{"data":{"name":"candles"},"mark":{"type":"rule","strokeWidth":1},"encoding":{"x":{"field":"i","type":"quantitative","axis":null,"scale":{"domain":[-0.375,466.625],"nice":false,"zero":false}},"y":{"field":"h","type":"quantitative","scale":{"domain":[0.91168,0.93876],"nice":false,"zero":false}},"y2":{"field":"l"},"color":{"condition":{"test":"datum.i==124","value":"#00ff00"},"value":"#3c3c3c"}}},
{"data":{"name":"candles"},"mark":{"type":"bar","size":2,"strokeWidth":1},"encoding":{"x":{"field":"i","type":"quantitative","axis":null,"scale":{"domain":[-0.375,466.625],"nice":false,"zero":false}},"y":{"field":"o","type":"quantitative","scale":{"domain":[0.91168,0.93876],"nice":false,"zero":false}},"y2":{"field":"c"},"fill":{"condition":{"test":"datum.c>=datum.o","value":"#14cc14"},"value":"#cc1414"},"stroke":{"condition":{"test":"datum.i==124","value":"#00ff00"},"value":"#3c3c3c"}}},
{"data":{"name":"levels"},"mark":{"type":"rule","strokeWidth":1.3},"encoding":{"x":{"field":"a","type":"quantitative","axis":null,"scale":{"domain":[-0.375,466.625],"nice":false,"zero":false}},"x2":{"field":"b"},"y":{"field":"p","type":"quantitative","scale":{"domain":[0.91168,0.93876],"nice":false,"zero":false}},"color":{"field":"k","type":"nominal","scale":{"domain":["r","g"],"range":["#ff0000","#778899"]},"legend":null}}},
{"data":{"name":"trend"},"mark":{"type":"line","strokeWidth":5,"strokeCap":"round","strokeJoin":"round"},"encoding":{"x":{"field":"i","type":"quantitative","axis":null,"scale":{"domain":[-0.375,466.625],"nice":false,"zero":false}},"y":{"field":"p","type":"quantitative","scale":{"domain":[0.91168,0.93876],"nice":false,"zero":false}},"detail":{"field":"s"},"order":{"field":"n"},"stroke":{"field":"k","type":"nominal","scale":{"domain":["red","green"],"range":["#ed1c24","#22b14c"]},"legend":null}}},
{"data":{"name":"tags"},"mark":{"type":"rect"},"encoding":{"x":{"datum":467.1,"type":"quantitative","axis":null,"scale":{"domain":[-0.375,466.625],"nice":false,"zero":false}},"x2":{"datum":477.4},"y":{"field":"hi","type":"quantitative","scale":{"domain":[0.91168,0.93876],"nice":false,"zero":false}},"y2":{"field":"lo"},"fill":{"condition":{"test":"datum.k=='g'","value":"#6e6e6e"},"value":"#ff0000"}}},
{"data":{"name":"tags"},"mark":{"type":"text","align":"left","font":"Liberation Sans","fontSize":9.5,"color":"white"},"encoding":{"x":{"datum":468.1,"type":"quantitative","axis":null,"scale":{"domain":[-0.375,466.625],"nice":false,"zero":false}},"y":{"field":"p","type":"quantitative","scale":{"domain":[0.91168,0.93876],"nice":false,"zero":false}},"text":{"field":"p","format":".5f"}}},
{"data":{"values":[{"i":3.6,"p":0.93843,"t":"USDCHF,H1  0.93045 0.93053 0.93027 0.93028"}]},"mark":{"type":"text","align":"left","font":"Liberation Sans","fontSize":9.5,"color":"#778899"},"encoding":{"x":{"field":"i","type":"quantitative","axis":null,"scale":{"domain":[-0.375,466.625],"nice":false,"zero":false}},"y":{"field":"p","type":"quantitative","scale":{"domain":[0.91168,0.93876],"nice":false,"zero":false}},"text":{"field":"t"}}},
{"data":{"values":[{"i":1.3,"p":0.93843}]},"mark":{"type":"point","shape":"triangle-down","filled":true,"size":22,"color":"#666666"},"encoding":{"x":{"field":"i","type":"quantitative","axis":null,"scale":{"domain":[-0.375,466.625],"nice":false,"zero":false}},"y":{"field":"p","type":"quantitative","scale":{"domain":[0.91168,0.93876],"nice":false,"zero":false}}}},
{"data":{"values":[{"i":452.6,"p":0.93658}]},"mark":{"type":"point","filled":true,"shape":"M-0.5,-0.42 Q0,-0.58 0.5,-0.42 C0.5,0.1 0.3,0.4 0,0.55 C-0.3,0.4 -0.5,0.1 -0.5,-0.42 Z","size":15400,"fill":"#f2f2f2","stroke":"#c4c4c4","strokeWidth":1,"opacity":1},"encoding":{"x":{"field":"i","type":"quantitative","axis":null,"scale":{"domain":[-0.375,466.625],"nice":false,"zero":false}},"y":{"field":"p","type":"quantitative","scale":{"domain":[0.91168,0.93876],"nice":false,"zero":false}}}},
{"data":{"values":[{"i":452.6,"p":0.93658}]},"mark":{"type":"point","filled":true,"shape":"M-0.5,-0.42 Q0,-0.58 0.5,-0.42 C0.5,0.1 0.3,0.4 0,0.55 C-0.3,0.4 -0.5,0.1 -0.5,-0.42 Z","size":12500,"fill":"#0c2c6a","opacity":1},"encoding":{"x":{"field":"i","type":"quantitative","axis":null,"scale":{"domain":[-0.375,466.625],"nice":false,"zero":false}},"y":{"field":"p","type":"quantitative","scale":{"domain":[0.91168,0.93876],"nice":false,"zero":false}}}},
{"data":{"name":"logoDots"},"mark":{"type":"point","filled":true,"size":110,"stroke":"white","strokeWidth":1,"opacity":1},"encoding":{"x":{"field":"i","type":"quantitative","axis":null,"scale":{"domain":[-0.375,466.625],"nice":false,"zero":false}},"y":{"field":"p","type":"quantitative","scale":{"domain":[0.91168,0.93876],"nice":false,"zero":false}},"fill":{"condition":{"test":"datum.u==1","value":"#4d9a2a"},"value":"#d84040"}}},
{"data":{"name":"logoCandles"},"mark":{"type":"rule","strokeWidth":3},"encoding":{"x":{"field":"i","type":"quantitative","axis":null,"scale":{"domain":[-0.375,466.625],"nice":false,"zero":false}},"y":{"field":"a","type":"quantitative","scale":{"domain":[0.91168,0.93876],"nice":false,"zero":false}},"y2":{"field":"b"},"color":{"condition":{"test":"datum.u==1","value":"#1fd01f"},"value":"#e02020"}}},
{"data":{"name":"logoText"},"mark":{"type":"text","font":"Liberation Serif","fontWeight":"bold"},"encoding":{"x":{"field":"i","type":"quantitative","axis":null,"scale":{"domain":[-0.375,466.625],"nice":false,"zero":false}},"y":{"field":"p","type":"quantitative","scale":{"domain":[0.91168,0.93876],"nice":false,"zero":false}},"text":{"field":"t"},"size":{"field":"z","type":"quantitative","scale":null},"color":{"field":"k","type":"nominal","scale":null}}}
]},
{"width":1868,"height":200,
"layer":[
{"data":{"name":"candles"},"mark":{"type":"rule","color":"#ff0000","strokeWidth":1},"encoding":{"x":{"field":"i","type":"quantitative","scale":{"domain":[-0.375,466.625],"nice":false,"zero":false},"axis":{"title":null,"values":[0,16,32,48,64,80,96,112,128,144,160,176,192,208,224,240,256,272,288,304,320,336,352],"tickCount":40,"labelExpr":"['1 Mar 2021','2 Mar 07:00','2 Mar 23:00','3 Mar 15:00','4 Mar 07:00','4 Mar 23:00','5 Mar 15:00','8 Mar 07:00','8 Mar 23:00','9 Mar 15:00','10 Mar 07:00','10 Mar 23:00','11 Mar 15:00','12 Mar 07:00','12 Mar 23:00','15 Mar 15:00','16 Mar 07:00','16 Mar 23:00','17 Mar 15:00','18 Mar 07:00','18 Mar 23:00','19 Mar 15:00','22 Mar 08:00'][datum.value/16]","labelAlign":"left","labelBaseline":"top","labelPadding":1,"labelOffset":-1,"tickSize":4,"labelFontSize":9.8,"labelOverlap":false,"labelBound":false,"labelFlush":false}},"y":{"field":"m","type":"quantitative","scale":{"domain":[-0.00194,0.00304],"nice":false,"zero":false},"axis":{"title":null,"orient":"right","values":[-0.001934,0,0.003004],"tickCount":10,"labelExpr":"datum.value==0?'0.00':format(datum.value,'.6f')","labelPadding":0,"labelFontSize":9,"labelOverlap":false,"labelBound":false,"labelFlush":false,"labelBaseline":{"expr":"datum.value>0.002?'top':datum.value<-0.001?'bottom':'middle'"}}},"y2":{"datum":0}}},
{"data":{"name":"signal"},"mark":{"type":"line","color":"#000000","strokeWidth":1,"strokeDash":[2,3],"interpolate":"monotone"},"encoding":{"x":{"field":"i","type":"quantitative","scale":{"domain":[-0.375,466.625],"nice":false,"zero":false}},"y":{"field":"s","type":"quantitative","scale":{"domain":[-0.00194,0.00304],"nice":false,"zero":false}}}},
{"data":{"values":[{"i":0.9,"m":0.00283,"t":"MACD(12,26,9) 0.000555 0.000594"}]},"mark":{"type":"text","align":"left","font":"Liberation Sans","fontSize":9.5,"color":"#778899"},"encoding":{"x":{"field":"i","type":"quantitative","scale":{"domain":[-0.375,466.625],"nice":false,"zero":false}},"y":{"field":"m","type":"quantitative","scale":{"domain":[-0.00194,0.00304],"nice":false,"zero":false}},"text":{"field":"t"}}}
]}
],
"config":{"scale":{"continuousPadding":0},"view":{"stroke":"#6b6b6b","strokeWidth":1.2},"axis":{"labelFont":"Liberation Sans","labelFontSize":9.5,"labelColor":"#778899","tickColor":"#666666","domain":false,"grid":false,"tickSize":3}}}
